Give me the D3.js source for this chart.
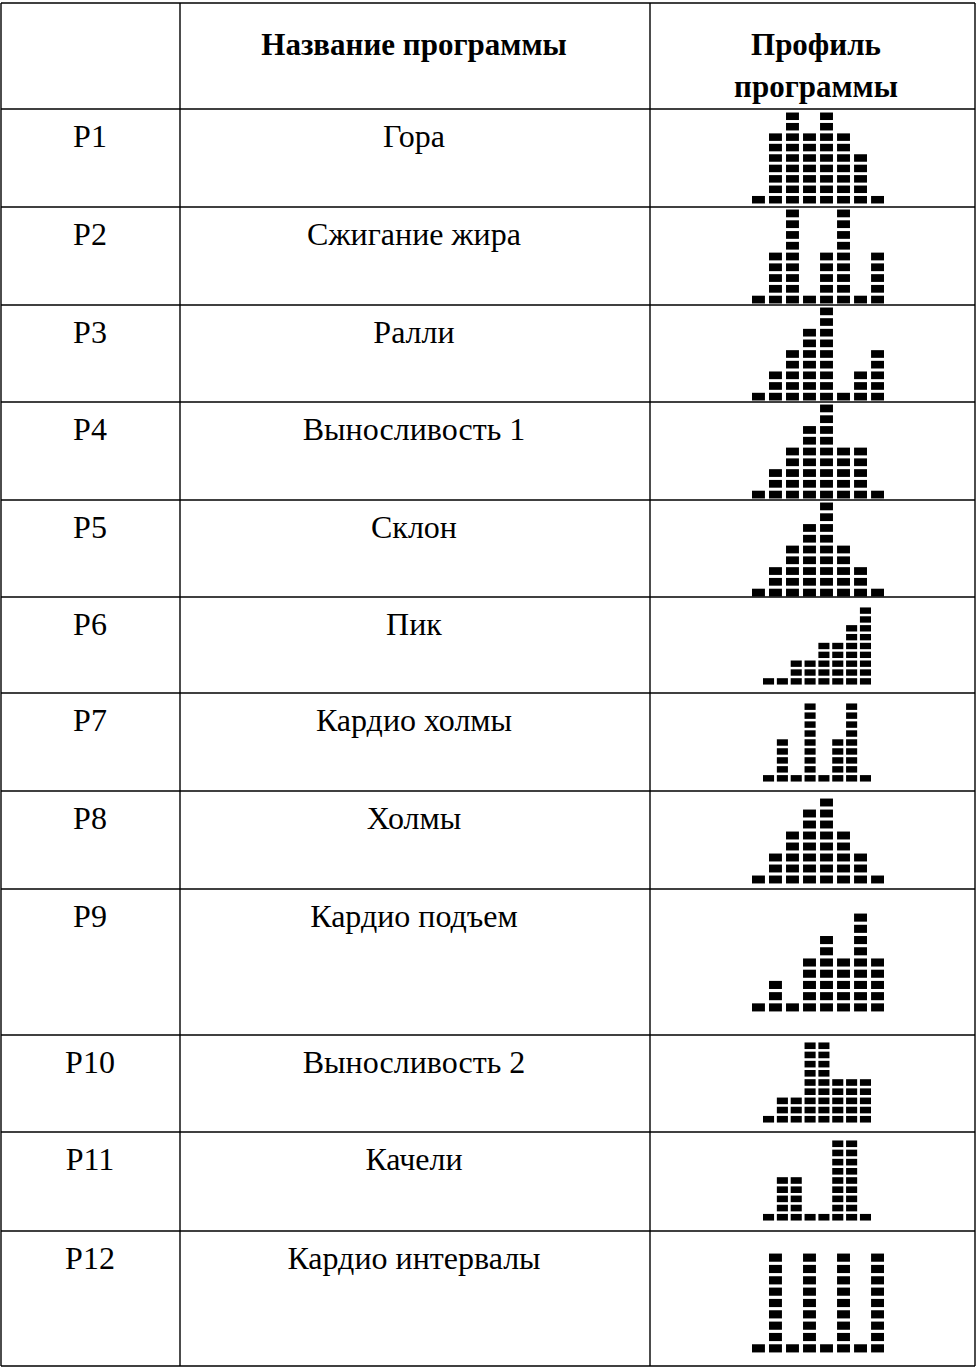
<!DOCTYPE html>
<html>
<head>
<meta charset="utf-8">
<script src="https://cdn.jsdelivr.net/npm/d3@7"></script>
<style>
  body { margin: 0; background: #fff; }
  svg { display: block; }
  svg text { font-family: "Liberation Serif", "Times New Roman", serif; }
</style>
</head>
<body>
<div id="chart"></div>
<script>
// table data
const codes = ["P1", "P2", "P3", "P4", "P5", "P6", "P7", "P8", "P9", "P10", "P11", "P12"];
const names = ["Гора", "Сжигание жира", "Ралли", "Выносливость 1", "Склон", "Пик",
  "Кардио холмы", "Холмы", "Кардио подъем", "Выносливость 2", "Качели", "Кардио интервалы"];
const profiles = [
  [1, 7, 9, 7, 9, 7, 5, 1],
  [1, 5, 9, 1, 5, 9, 1, 5],
  [1, 3, 5, 7, 9, 1, 3, 5],
  [1, 3, 5, 7, 9, 5, 5, 1],
  [1, 3, 5, 7, 9, 5, 3, 1],
  [1, 1, 3, 3, 5, 5, 7, 9],
  [1, 5, 1, 9, 1, 5, 9, 1],
  [1, 3, 5, 7, 8, 5, 3, 1],
  [1, 3, 1, 5, 7, 5, 9, 5],
  [1, 3, 3, 9, 9, 5, 5, 5],
  [1, 5, 5, 1, 1, 9, 9, 1],
  [1, 9, 1, 9, 1, 9, 1, 9]
];
const headers = ["", "Название программы", ["Профиль", "программы"]];

const width = 976, height = 1369;

// table grid
const rowLines = [3, 109, 207, 305, 402, 500, 597, 693, 791, 889, 1035, 1132, 1231, 1366];
const colLines = [1, 180, 650, 975];
const colMid = [90, 414, 816];

// where each profile sits (top, bottom, wide or narrow grid)
const profBox = [
  [112, 204, true], [209, 304, true], [307, 401, true], [404, 499, true], [502, 597, true],
  [607, 685, false], [703, 782, false], [798, 884, true], [913, 1012, true],
  [1042, 1123, false], [1140, 1221, false], [1253, 1353, true]
];

const svg = d3.select("#chart").append("svg")
    .attr("width", width)
    .attr("height", height)
    .attr("viewBox", [0, 0, width, height]);

// grid lines
svg.append("g")
    .attr("stroke", "#000")
    .attr("stroke-width", 1.4)
  .call(g => g.selectAll("line.h")
    .data(rowLines)
    .join("line")
      .attr("class", "h")
      .attr("x1", colLines[0]).attr("x2", colLines[colLines.length - 1])
      .attr("y1", d => d).attr("y2", d => d))
  .call(g => g.selectAll("line.v")
    .data(colLines)
    .join("line")
      .attr("class", "v")
      .attr("x1", d => d).attr("x2", d => d)
      .attr("y1", rowLines[0]).attr("y2", rowLines[rowLines.length - 1]));

// header
const head = svg.append("g")
    .attr("font-size", 31)
    .attr("font-weight", "bold")
    .attr("text-anchor", "middle");
head.append("text")
    .attr("x", colMid[1]).attr("y", 55)
    .text(headers[1]);
head.append("text")
    .attr("x", colMid[2])
    .selectAll("tspan")
    .data(headers[2])
    .join("tspan")
      .attr("x", colMid[2])
      .attr("y", (d, i) => 55 + i * 42)
      .text(d => d);

// rows
const body = svg.append("g")
    .attr("font-size", 32)
    .attr("text-anchor", "middle");
body.selectAll("text.code")
  .data(codes)
  .join("text")
    .attr("class", "code")
    .attr("x", colMid[0])
    .attr("y", (d, i) => rowLines[i + 1] + 38)
    .text(d => d);
body.selectAll("text.name")
  .data(names)
  .join("text")
    .attr("class", "name")
    .attr("x", colMid[1])
    .attr("y", (d, i) => rowLines[i + 1] + 38)
    .text(d => d);

// profile blocks
profiles.forEach((vals, i) => {
  const [top, bottom, wide] = profBox[i];
  const x = d3.scaleBand()
      .domain(d3.range(vals.length))
      .range(wide ? [752, 884] : [763, 871])
      .paddingInner(wide ? 0.24 : 0.2);
  const y = d3.scaleBand()
      .domain(d3.range(d3.max(vals)))
      .range([bottom, top])
      .paddingInner(0.28)
      .paddingOuter(0.05);
  const cells = vals.flatMap((v, c) => d3.range(v).map(r => ({c, r})));
  svg.append("g")
      .attr("fill", "#000")
    .selectAll("rect")
    .data(cells)
    .join("rect")
      .attr("x", d => x(d.c))
      .attr("y", d => y(d.r))
      .attr("width", x.bandwidth())
      .attr("height", y.bandwidth());
});
</script>
</body>
</html>
